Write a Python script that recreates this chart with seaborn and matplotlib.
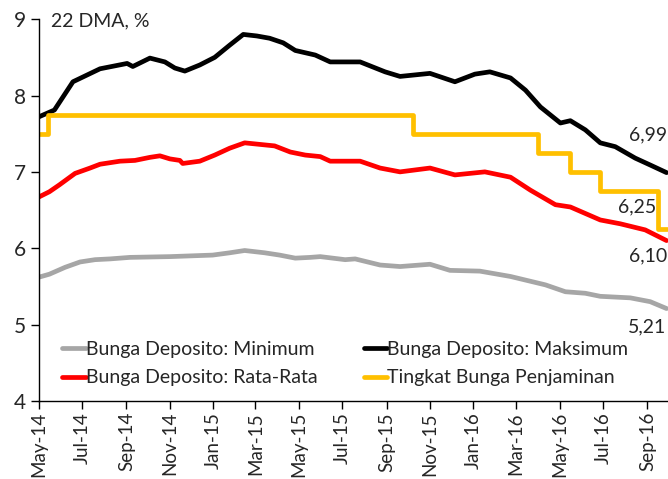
import matplotlib
matplotlib.use("Agg")
import matplotlib.pyplot as plt
import matplotlib.dates as mdates
import pandas as pd
import seaborn as sns

# Bunga Deposito: Maksimum
max_dates = ["2014-05-01", "2014-05-23", "2014-06-18", "2014-07-26", "2014-09-02", "2014-09-10",
             "2014-10-04", "2014-10-25", "2014-11-08", "2014-11-22", "2014-12-13", "2015-01-03",
             "2015-01-24", "2015-02-12", "2015-03-03", "2015-03-21", "2015-04-09", "2015-04-26",
             "2015-05-24", "2015-06-14", "2015-07-26", "2015-08-30", "2015-09-20", "2015-11-01",
             "2015-12-06", "2016-01-03", "2016-01-24", "2016-02-22", "2016-03-14", "2016-04-04",
             "2016-05-02", "2016-05-16", "2016-06-06", "2016-06-27", "2016-07-18", "2016-08-15",
             "2016-09-05", "2016-09-28"]
max_vals = [7.72, 7.81, 8.18, 8.35, 8.42, 8.38, 8.49, 8.44, 8.36, 8.32, 8.40, 8.50,
            8.66, 8.80, 8.78, 8.75, 8.69, 8.59, 8.53, 8.44, 8.44, 8.31, 8.25, 8.29,
            8.18, 8.28, 8.31, 8.23, 8.07, 7.85, 7.64, 7.67, 7.55, 7.38, 7.33, 7.18,
            7.09, 6.99]

# Bunga Deposito: Rata-Rata
avg_dates = ["2014-05-01", "2014-05-16", "2014-05-30", "2014-06-21", "2014-07-12", "2014-07-26",
             "2014-08-23", "2014-09-13", "2014-10-04", "2014-10-18", "2014-11-01", "2014-11-15",
             "2014-11-19", "2014-12-13", "2015-01-03", "2015-01-24", "2015-02-14", "2015-03-07",
             "2015-03-28", "2015-04-19", "2015-05-10", "2015-05-31", "2015-06-14", "2015-07-26",
             "2015-08-23", "2015-09-20", "2015-11-01", "2015-12-06", "2016-01-17", "2016-02-22",
             "2016-03-21", "2016-04-25", "2016-05-16", "2016-06-27", "2016-07-25", "2016-08-29",
             "2016-09-28"]
avg_vals = [6.67, 6.74, 6.83, 6.98, 7.05, 7.10, 7.14, 7.15, 7.19, 7.21, 7.17, 7.15,
            7.11, 7.14, 7.22, 7.31, 7.38, 7.36, 7.34, 7.26, 7.22, 7.20, 7.14, 7.14,
            7.05, 7.00, 7.05, 6.96, 7.00, 6.93, 6.76, 6.57, 6.54, 6.37, 6.32, 6.24,
            6.10]

# Bunga Deposito: Minimum
min_dates = ["2014-05-01", "2014-05-16", "2014-06-07", "2014-06-28", "2014-07-19", "2014-08-09",
             "2014-09-06", "2014-11-01", "2014-12-31", "2015-01-24", "2015-02-14", "2015-03-14",
             "2015-04-04", "2015-04-26", "2015-05-17", "2015-05-31", "2015-07-05", "2015-07-19",
             "2015-08-23", "2015-09-20", "2015-11-01", "2015-11-29", "2016-01-10", "2016-02-22",
             "2016-04-11", "2016-05-09", "2016-06-06", "2016-06-27", "2016-08-08", "2016-09-05",
             "2016-09-28"]
min_vals = [5.62, 5.66, 5.75, 5.82, 5.85, 5.86, 5.88, 5.89, 5.91, 5.94, 5.97, 5.94,
            5.91, 5.87, 5.88, 5.89, 5.85, 5.86, 5.78, 5.76, 5.79, 5.71, 5.70, 5.63,
            5.52, 5.43, 5.41, 5.37, 5.35, 5.30, 5.21]

# Tingkat Bunga Penjaminan (step changes)
lps_dates = ["2014-05-01", "2014-05-14", "2015-10-08", "2016-04-01", "2016-05-16",
             "2016-06-27", "2016-09-16", "2016-09-28"]
lps_vals = [7.50, 7.75, 7.50, 7.25, 7.00, 6.75, 6.25, 6.25]

end_labels = ["6,99", "6,25", "6,10", "5,21"]

sns.set_style("white")
plt.rcParams["font.family"] = ["Lato", "DejaVu Sans"]

fig = plt.figure(figsize=(6.68, 4.79), dpi=100)
ax = fig.add_axes([0.058, 0.163, 0.942, 0.797])

lw = 3.4
sns.lineplot(x=pd.to_datetime(min_dates), y=min_vals, color="#a6a6a6", linewidth=lw,
             label="Bunga Deposito: Minimum", ax=ax)
sns.lineplot(x=pd.to_datetime(avg_dates), y=avg_vals, color="#ff0000", linewidth=lw,
             label="Bunga Deposito: Rata-Rata", ax=ax)
sns.lineplot(x=pd.to_datetime(max_dates), y=max_vals, color="#000000", linewidth=lw,
             label="Bunga Deposito: Maksimum", ax=ax)
sns.lineplot(x=pd.to_datetime(lps_dates), y=lps_vals, color="#ffc000", linewidth=lw,
             drawstyle="steps-post", label="Tingkat Bunga Penjaminan", ax=ax)

ax.set_xlim(pd.Timestamp("2014-05-01"), pd.Timestamp("2016-09-30"))
ax.set_ylim(4, 9)
ax.set_yticks([4, 5, 6, 7, 8, 9])
ax.xaxis.set_major_locator(mdates.MonthLocator(bymonth=[1, 3, 5, 7, 9, 11]))
ax.xaxis.set_major_formatter(mdates.DateFormatter("%b-%y"))
ax.tick_params(axis="x", rotation=90, labelsize=13.5, length=6, width=1, direction="out",
               bottom=True, color="black", pad=2)
ax.tick_params(axis="y", labelsize=15, length=6, width=1, direction="out",
               left=True, color="black", pad=3)
for s in ["top", "right"]:
    ax.spines[s].set_visible(False)
for s in ["left", "bottom"]:
    ax.spines[s].set_color("black")
    ax.spines[s].set_linewidth(1)
ax.set_xlabel("")
ax.set_ylabel("")

ax.text(0.02, 0.995, "22 DMA, %", transform=ax.transAxes, fontsize=14,
        ha="left", va="center")

# end-of-series labels
ax.text(pd.Timestamp("2016-09-29"), 7.49, end_labels[0], ha="right", va="center", fontsize=14)
ax.text(pd.Timestamp("2016-09-13"), 6.54, end_labels[1], ha="right", va="center", fontsize=14)
ax.text(pd.Timestamp("2016-09-29"), 5.90, end_labels[2], ha="right", va="center", fontsize=14)
ax.text(pd.Timestamp("2016-09-27"), 4.97, end_labels[3], ha="right", va="center", fontsize=14)

handles, labels = ax.get_legend_handles_labels()
leg = ax.legend(handles, labels, ncol=2,
                loc="upper left", bbox_to_anchor=(0.025, 0.178), frameon=False,
                fontsize=14, handlelength=1.2, handletextpad=0.0,
                columnspacing=2.4, labelspacing=0.6, borderaxespad=0.0)

fig.savefig("out.png", dpi=100)
